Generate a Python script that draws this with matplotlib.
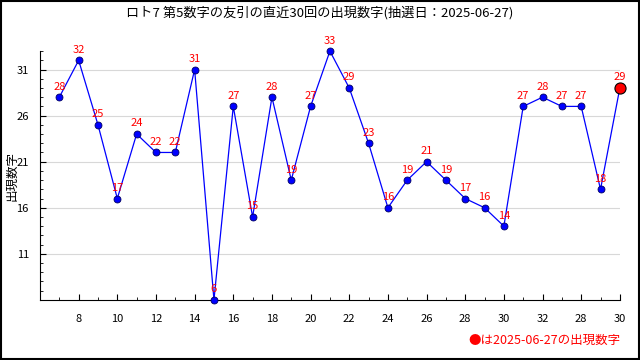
import numpy as np
import matplotlib.pyplot as plt
from matplotlib.patches import Rectangle

plt.rcParams['font.family'] = ['Noto Sans CJK JP', 'DejaVu Sans']

draws = list(range(7, 37))
values = [28, 32, 25, 17, 24, 22, 22, 31, 6, 27, 15, 28, 19, 27, 33, 29, 23, 16,
          19, 21, 19, 17, 16, 14, 27, 28, 27, 27, 18, 29]
xtick_pos = list(range(8, 37, 2))
xtick_labels = ['8', '10', '12', '14', '16', '18', '20', '22', '24', '26', '28',
                '30', '32', '28', '30']
yticks = [11, 16, 21, 26, 31]

fig = plt.figure(figsize=(6.4, 3.6), dpi=100)
ax = fig.add_axes([0.0625, 0.167, 0.906, 0.691])

ax.plot(draws, values, color='blue', lw=0.9, zorder=2)
ax.plot(draws[:-1], values[:-1], 'o', color='blue', mec='#000060', ms=5, mew=0.6,
        zorder=3, clip_on=False)
ax.plot(draws[-1], values[-1], 'o', color='red', mec='black', ms=8, mew=0.8,
        zorder=4, clip_on=False)
for x, v in zip(draws, values):
    ax.annotate(str(v), (x, v), xytext=(0, 4), textcoords='offset points',
                ha='center', va='bottom', color='red', fontsize=8, zorder=5,
                annotation_clip=False)

ax.set_xlim(6, 36)
ax.set_ylim(6, 33)
ax.set_xticks(xtick_pos)
ax.set_xticklabels(xtick_labels)
ax.set_xticks(range(7, 37), minor=True)
ax.set_yticks(yticks)
ax.set_yticks(range(6, 34), minor=True)
ax.tick_params(labelsize=8, direction='in', length=4, pad=8)
ax.tick_params(which='minor', direction='in', length=2.5)
ax.tick_params(axis='x', pad=10)
ax.grid(axis='y', color='#d8d8d8', lw=0.8)
ax.set_axisbelow(True)
for s in ['top', 'right']:
    ax.spines[s].set_visible(False)

fig.text(0.018, 0.51, '出現数字', rotation=90, ha='center', va='center', fontsize=9)
fig.text(0.5, 0.965, 'ロト7 第5数字の友引の直近30回の出現数字(抽選日：2025-06-27)',
         ha='center', va='center', fontsize=9.5)
fig.text(0.97, 0.055, '●は2025-06-27の出現数字', ha='right', va='center',
         color='red', fontsize=9)
fig.patches.append(Rectangle((0.001, 0.002), 0.997, 0.996, transform=fig.transFigure,
                             fill=False, ec='black', lw=1.5))

fig.savefig('out.png', dpi=100)
